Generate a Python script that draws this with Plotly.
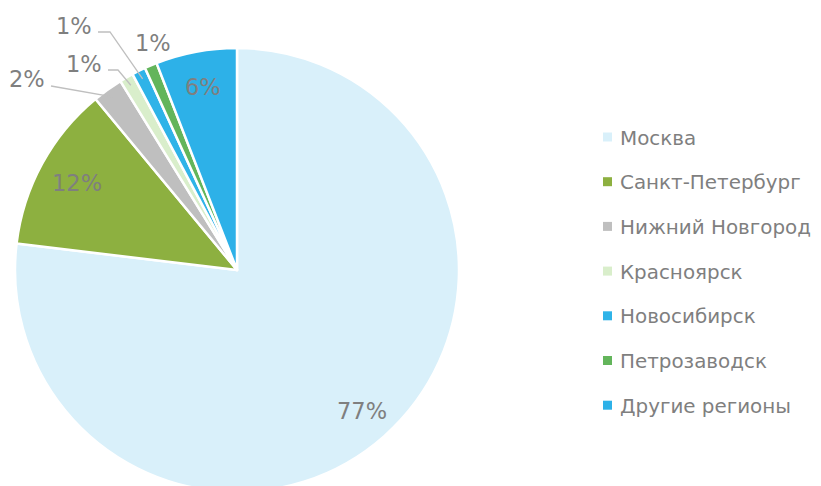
import math
import plotly.graph_objects as go

# ---- data ----
regions = ["Москва", "Санкт-Петербург", "Нижний Новгород", "Красноярск",
           "Новосибирск", "Петрозаводск", "Другие регионы"]
shares = [76.9, 12.1, 2.2, 1.0, 1.0, 0.9, 5.9]
colors = ["#D9F0FA", "#8DB040", "#BFBFBF", "#D9EECB", "#2FB3E8", "#63B55B", "#2DB1E8"]

# ---- layout constants (page pixel coordinates; figure starts at 8,8 due to body margin) ----
OFF = 8
WF, HF = 830, 500
FONT = "DejaVu Sans"
GREY = "#7F7F7F"
CX, CY, R = 237, 270, 222

def px(x):
    return (x - OFF) / WF

def py(y):
    return 1 - (y - OFF) / HF

fig = go.Figure(go.Pie(
    labels=regions,
    values=shares,
    sort=False,
    direction="clockwise",
    rotation=0,
    marker=dict(colors=colors, line=dict(color="white", width=2.5)),
    textinfo="none",
    hoverinfo="label+percent",
    showlegend=False,
    domain=dict(x=[px(CX - R), px(CX + R)], y=[py(CY + R), py(CY - R)]),
))

total = sum(shares)
pcts = [v / total for v in shares]
mid_angles = []
acc = 0
for p in pcts:
    mid_angles.append((acc + p / 2) * 360)
    acc += p

def polar(angle, rr):
    a = math.radians(angle)
    return CX + rr * math.sin(a), CY - rr * math.cos(a)

annotations = []
shapes = []
pct_font = dict(family=FONT, size=22.5, color=GREY)
leg_font = dict(family=FONT, size=19.9, color=GREY)

# inside labels (large slices)
inside = {0: 0.85, 1: 0.82, 6: 0.84}
for i, k in inside.items():
    x, y = polar(mid_angles[i], R * k)
    annotations.append(dict(x=px(x), y=py(y), xref="paper", yref="paper",
                            text=f"{round(pcts[i]*100)}%", showarrow=False,
                            font=pct_font, xanchor="center", yanchor="middle"))

# outside labels with leader lines: (label centre, bend point)
outside = {
    2: ((27, 79), (52, 86)),
    3: ((84, 64), (118, 70)),
    4: ((74, 26), (110, 32)),
    5: ((153, 43), None),
}
for i, (lab, bend) in outside.items():
    annotations.append(dict(x=px(lab[0]), y=py(lab[1]), xref="paper", yref="paper",
                            text=f"{round(pcts[i]*100)}%", showarrow=False,
                            font=pct_font, xanchor="center", yanchor="middle"))
    if bend is not None:
        ex, ey = polar(mid_angles[i], R * 0.96)
        start_x = lab[0] + 24
        if i == 2:
            path = f"M {px(start_x)},{py(bend[1])} L {px(ex)},{py(ey)}"
        else:
            path = (f"M {px(start_x)},{py(bend[1])} L {px(bend[0])},{py(bend[1])} "
                    f"L {px(ex)},{py(ey)}")
        shapes.append(dict(type="path", xref="paper", yref="paper", path=path,
                           line=dict(color="#BFBFBF", width=1.3)))

# custom legend
LX, LY0, LSTEP = 607.5, 137, 44.7
for i, name in enumerate(regions):
    yc = LY0 + i * LSTEP
    shapes.append(dict(type="rect", xref="paper", yref="paper",
                       x0=px(LX - 4.5), x1=px(LX + 4.5),
                       y0=py(yc + 4.5), y1=py(yc - 4.5),
                       fillcolor=colors[i], line=dict(width=0)))
    annotations.append(dict(x=px(618), y=py(yc + 1), xref="paper", yref="paper",
                            text=name, showarrow=False, font=leg_font,
                            xanchor="left", yanchor="middle"))

fig.update_layout(
    width=WF, height=HF,
    margin=dict(l=0, r=0, t=0, b=0),
    paper_bgcolor="white", plot_bgcolor="white",
    annotations=annotations, shapes=shapes,
    font=dict(family=FONT, color=GREY),
)

fig.write_html("out.html")
